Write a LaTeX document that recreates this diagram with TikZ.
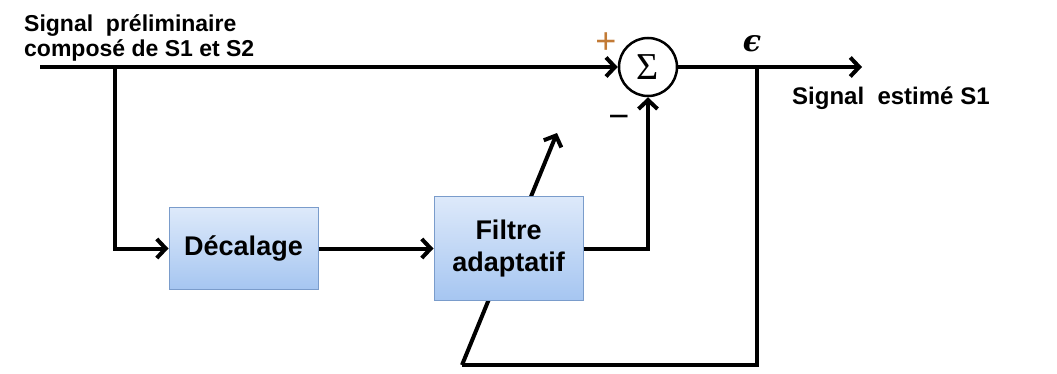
\documentclass[tikz,border=0pt]{standalone}
\usepackage{fontspec}
\setmainfont{Liberation Sans}
\newfontfamily\serifgr{Liberation Serif}
\newfontfamily\dvserif{DejaVu Serif}
\usetikzlibrary{arrows.meta,backgrounds}
\definecolor{boxtop}{HTML}{DDE9FA}
\definecolor{boxbot}{HTML}{A6C6F1}
\definecolor{boxedge}{HTML}{7A9CCB}
\definecolor{plusc}{HTML}{C27A35}
\begin{document}
\begin{tikzpicture}[x=1pt,y=-1pt,
  wire/.style={line width=4pt},
  arr/.style={wire,-{Straight Barb[length=9pt,width=19pt,line width=4pt]}},
  blockbox/.style={draw=boxedge, line width=1pt, top color=boxtop, bottom color=boxbot,
    minimum width=149pt, align=center, inner sep=0pt,
    font=\bfseries\fontsize{27}{32}\selectfont},
  lbl/.style={font=\bfseries\fontsize{23}{25}\selectfont, inner sep=0pt, align=left},
  sumnode/.style={circle, draw, line width=2.5pt, minimum size=58pt, inner sep=0pt, fill=white}]
\useasboundingbox (0,0) rectangle (1057,374);

% nodes
\node[blockbox, minimum height=81pt] (dec) at (243.5,248.5) {Décalage};
\node[blockbox, minimum height=103pt] (fil) at (508.5,248.5) {Filtre\\adaptatif};
\node[sumnode] (sum) at (648,67) {\serifgr\fontsize{38}{38}\selectfont Σ};

\coordinate (in) at (40,67);
\coordinate (br) at (115,67);
\coordinate (out) at (862,67);
\coordinate (tap) at (757,67);
\coordinate (fbc) at (462,365);
\coordinate (tip) at (557,133);

% labels
\node[lbl, anchor=north west] (lin) at (24,14) {Signal\ \ préliminaire\\composé de S1 et S2};
\node[lbl, anchor=base west, font=\bfseries\fontsize{24}{26}\selectfont] (lout) at (792,105) {Signal\ \ estimé S1};
\node[inner sep=0pt] (eps) at (752,44) {\dvserif\bfseries\itshape\fontsize{30}{30}\selectfont ϵ};
\node[inner sep=0pt, text=plusc] (plus) at (606,43) {\fontsize{36}{36}\selectfont +};
\node[inner sep=0pt] (minus) at (619,122) {\fontsize{36}{36}\selectfont −};

% connectors
\draw[arr] (in) -- (sum.west);
\draw[arr] (br) |- (dec.west);
\draw[arr] (dec.east) -- (fil.west);
\draw[arr] (fil.east) -| (sum.south);
\draw[arr] (sum.east) -- (out);
\begin{scope}[on background layer]
\draw[wire] (tap) |- (fbc);
\draw[arr] (fbc) -- (tip);
\end{scope}
\end{tikzpicture}
\end{document}
